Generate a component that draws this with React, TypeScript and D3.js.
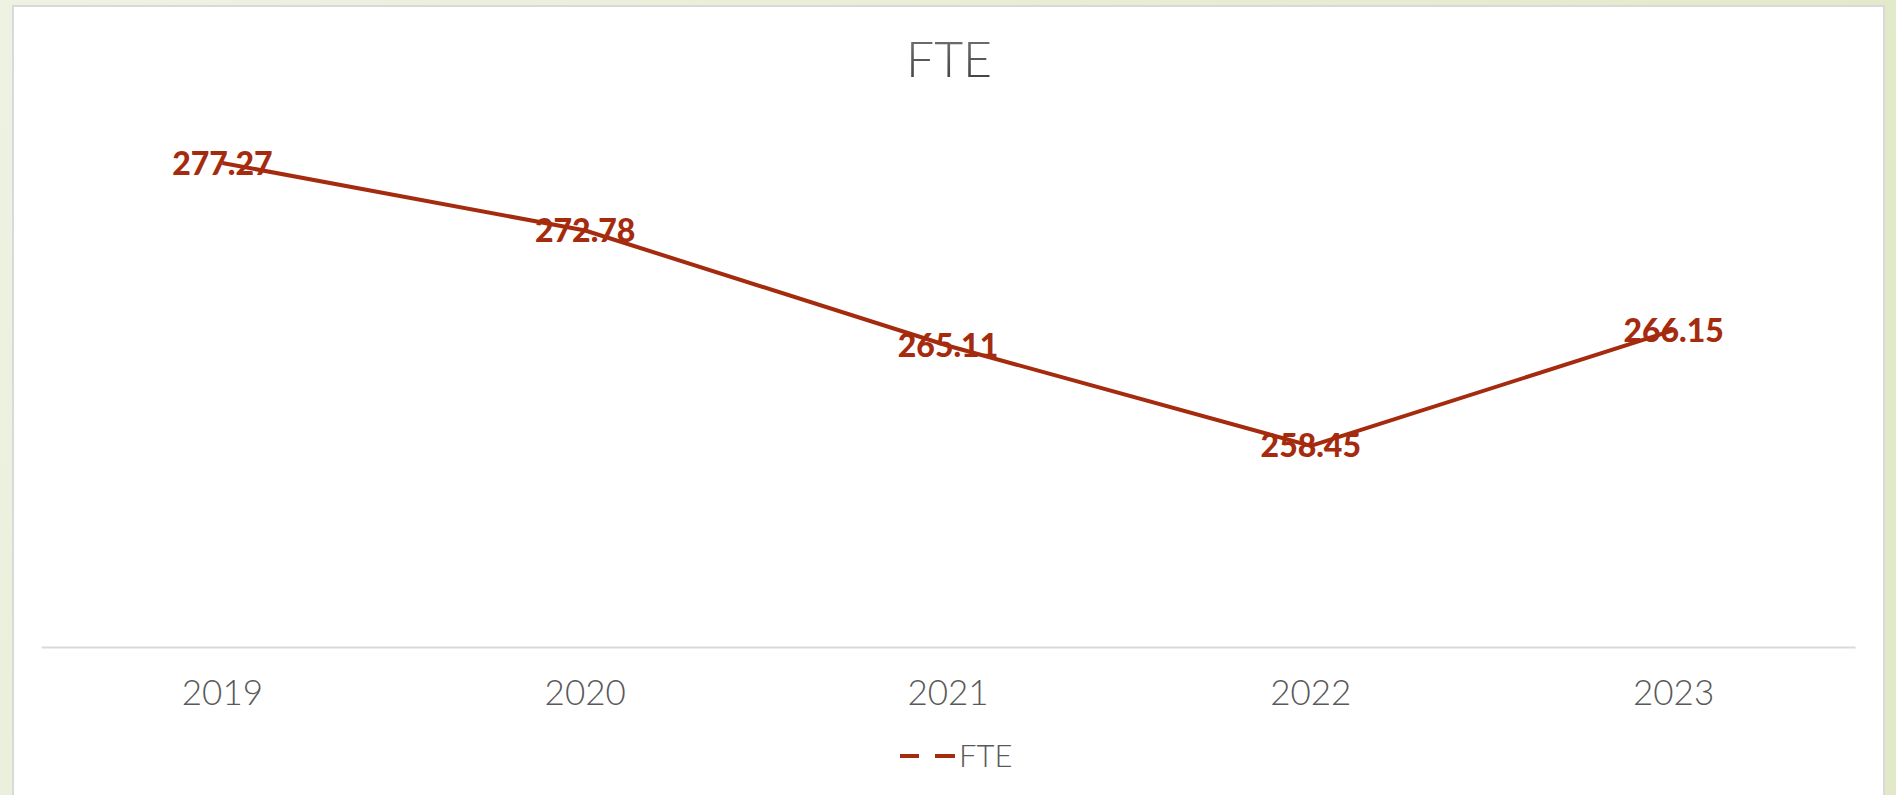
import { useEffect, useRef } from "react";
import * as d3 from "d3";

const years = ["2019", "2020", "2021", "2022", "2023"];
const fte = [277.27, 272.78, 265.11, 258.45, 266.15];
const yDomain = [245, 280];
const seriesName = "FTE";

export default function App() {
  const ref = useRef<SVGSVGElement>(null);

  useEffect(() => {
    const width = 1896;
    const height = 795;
    const red = "#a52b0f";
    const grey = "#595959";
    const font = "Lato, 'Open Sans', sans-serif";

    const svg = d3.select(ref.current);
    svg.selectAll("*").remove();
    svg
      .attr("width", width)
      .attr("height", height)
      .attr("viewBox", [0, 0, width, height])
      .style("position", "absolute")
      .style("left", 0)
      .style("top", 0);

    // page background
    const defs = svg.append("defs");
    const bg = defs.append("linearGradient").attr("id", "bg").attr("x1", 0).attr("x2", 1).attr("y1", 0).attr("y2", 0.3);
    bg.append("stop").attr("offset", 0).attr("stop-color", "#eef2e3");
    bg.append("stop").attr("offset", 1).attr("stop-color", "#e2e9c8");
    const tg = defs.append("linearGradient").attr("id", "tg").attr("x1", 0).attr("x2", 0).attr("y1", 0).attr("y2", 1);
    tg.append("stop").attr("offset", 0).attr("stop-color", "#7a7a7a");
    tg.append("stop").attr("offset", 1).attr("stop-color", "#3a3a3a");

    svg.append("rect").attr("width", width).attr("height", height).attr("fill", "url(#bg)");

    // chart card
    svg.append("rect")
      .attr("x", 13).attr("y", 6)
      .attr("width", 1871).attr("height", height + 10)
      .attr("fill", "#fff")
      .attr("stroke", "#d9d9d9")
      .attr("stroke-width", 2);

    const x = d3.scaleBand().domain(years).range([41, 1855]);
    const cx = (d: string) => (x(d) ?? 0) + x.bandwidth() / 2;
    const y = d3.scaleLinear().domain(yDomain).range([648, 122]);

    // title
    svg.append("text")
      .attr("x", 949).attr("y", 77)
      .attr("text-anchor", "middle")
      .attr("font-family", font)
      .attr("font-weight", 300)
      .attr("font-size", 50)
      .attr("fill", "url(#tg)")
      .text(seriesName);

    // category axis
    const axis = svg.append("g")
      .attr("transform", "translate(0,647)")
      .call(d3.axisBottom(x).tickSize(0).tickPadding(0).tickSizeOuter(0));
    axis.select(".domain").attr("stroke", "#d9d9d9").attr("stroke-width", 2);
    axis.selectAll("text")
      .attr("dy", null)
      .attr("y", 58)
      .attr("font-family", font)
      .attr("font-weight", 300)
      .attr("font-size", 35)
      .attr("fill", grey);

    const pts = years.map((yr, i) => ({ yr, v: fte[i] }));

    svg.append("path")
      .datum(pts)
      .attr("fill", "none")
      .attr("stroke", red)
      .attr("stroke-width", 4)
      .attr("stroke-linejoin", "round")
      .attr("d", d3.line<{ yr: string; v: number }>().x(d => cx(d.yr)).y(d => y(d.v)));

    // data labels (centered on points)
    svg.append("g")
      .selectAll("text")
      .data(pts)
      .join("text")
      .attr("x", d => cx(d.yr))
      .attr("y", d => y(d.v))
      .attr("dy", "0.36em")
      .attr("text-anchor", "middle")
      .attr("font-family", font)
      .attr("font-weight", 900)
      .attr("font-size", 32)
      .attr("fill", red)
      .text(d => d.v.toFixed(2));

    // legend
    const lg = svg.append("g");
    lg.append("line").attr("x1", 900).attr("x2", 919).attr("y1", 756).attr("y2", 756)
      .attr("stroke", red).attr("stroke-width", 4);
    lg.append("line").attr("x1", 935).attr("x2", 955).attr("y1", 756).attr("y2", 756)
      .attr("stroke", red).attr("stroke-width", 4);
    lg.append("text")
      .attr("x", 959).attr("y", 767)
      .attr("font-family", font)
      .attr("font-weight", 300)
      .attr("font-size", 31)
      .attr("fill", grey)
      .text(seriesName);
  }, []);

  return <svg ref={ref}></svg>;
}
